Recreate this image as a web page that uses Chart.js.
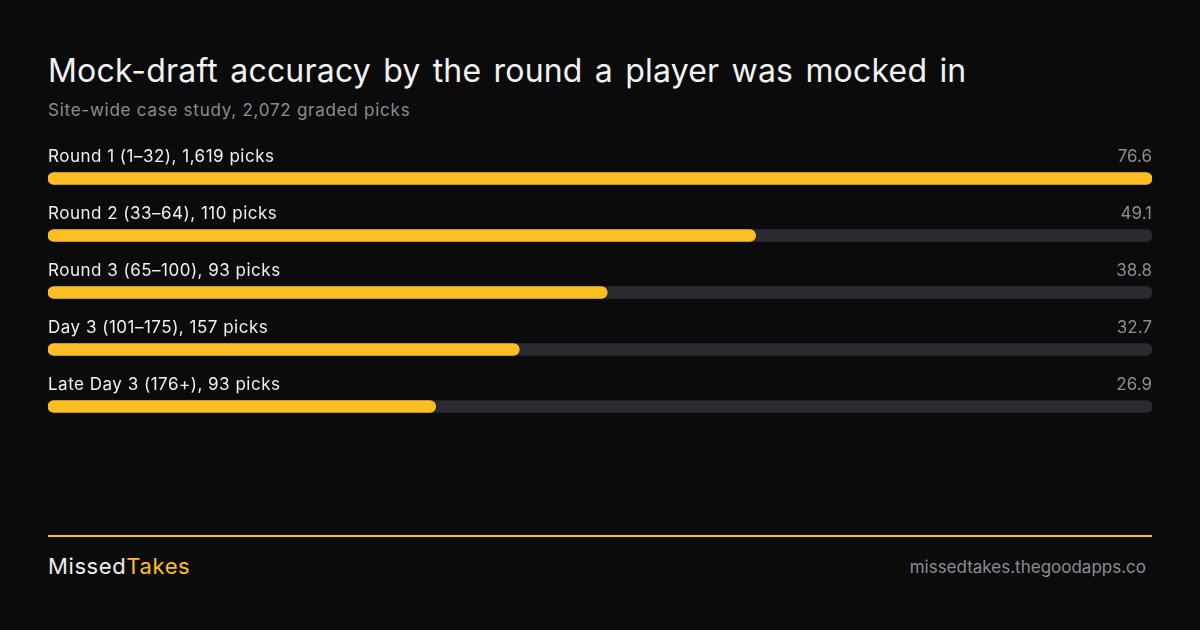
<!DOCTYPE html>
<html>
<head>
<meta charset="utf-8">
<script src="https://cdn.jsdelivr.net/npm/chart.js@4.4.1/dist/chart.umd.min.js"></script>
<style>
  html, body { margin: 0; padding: 0; background: #0b0b0b; }
  body { width: 1200px; height: 630px; position: relative; overflow: hidden; font-family: Inter, "Noto Sans", sans-serif; }
  #title { position: absolute; left: 48px; top: 51px; color: #f2f2f2; font-size: 32px; font-weight: 400; letter-spacing: 0.2px; word-spacing: 3px; white-space: nowrap; }
  #subtitle { position: absolute; left: 48px; top: 100px; color: #8b8b94; font-size: 17px; letter-spacing: 0.75px; white-space: nowrap; }
  #chartBox { position: absolute; left: 48px; top: 140px; width: 1104px; height: 300px; }
  #rule { position: absolute; left: 48px; top: 535px; width: 1104px; height: 2px; background: #fbbf24; }
  #brand { position: absolute; left: 48px; top: 553px; font-size: 22px; letter-spacing: 0.6px; color: #ededed; white-space: nowrap; }
  #brand span { color: #fbbf24; }
  #site { position: absolute; right: 54px; top: 557px; font-size: 17px; color: #8b8b94; white-space: nowrap; }
</style>
</head>
<body>
<div id="title">Mock-draft accuracy by the round a player was mocked in</div>
<div id="subtitle">Site-wide case study, 2,072 graded picks</div>
<div id="chartBox"><canvas id="chart"></canvas></div>
<div id="rule"></div>
<div id="brand">Missed<span>Takes</span></div>
<div id="site">missedtakes.thegoodapps.co</div>

<script>
// dados
const rounds = [
    'Round 1 (1\u201332), 1,619 picks',
    'Round 2 (33\u201364), 110 picks',
    'Round 3 (65\u2013100), 93 picks',
    'Day 3 (101\u2013175), 157 picks',
    'Late Day 3 (176+), 93 picks'
];
const accuracy = [76.6, 49.1, 38.8, 32.7, 26.9];
const track = [76.6, 76.6, 76.6, 76.6, 76.6];

const YELLOW = '#fbbf24';
const TRACK = '#2c2a31';

// plugin: escreve o rótulo e o valor acima de cada barra
const rowLabels = {
    id: 'rowLabels',
    afterDatasetsDraw(chart) {
        const ctx = chart.ctx;
        const meta = chart.getDatasetMeta(1);
        const area = chart.chartArea;
        ctx.save();
        ctx.textBaseline = 'alphabetic';
        ctx.font = '17px Inter, "Noto Sans", sans-serif';
        meta.data.forEach((bar, i) => {
            const y = bar.y - 17;
            ctx.letterSpacing = '0.5px';
            ctx.fillStyle = '#f0f0f0';
            ctx.textAlign = 'left';
            ctx.fillText(rounds[i], area.left, y);
            ctx.letterSpacing = '0px';
            ctx.fillStyle = '#8b8b94';
            ctx.textAlign = 'right';
            ctx.fillText(accuracy[i].toFixed(1), area.right, y);
        });
        ctx.restore();
    }
};

new Chart(document.getElementById('chart'), {
    type: 'bar',
    data: {
        labels: rounds,
        datasets: [
            {
                label: 'track',
                data: track,
                backgroundColor: TRACK,
                barThickness: 12,
                borderRadius: 6,
                borderSkipped: false,
                grouped: false,
                order: 2
            },
            {
                label: 'Accuracy',
                data: accuracy,
                backgroundColor: YELLOW,
                barThickness: 12,
                borderRadius: 6,
                borderSkipped: false,
                grouped: false,
                order: 1
            }
        ]
    },
    options: {
        indexAxis: 'y',
        responsive: true,
        maintainAspectRatio: false,
        animation: false,
        layout: { padding: { top: 10, bottom: 5 } },
        plugins: { legend: { display: false }, tooltip: { enabled: false } },
        scales: {
            x: { display: false, min: 0, max: Math.max(...track) },
            y: { display: false }
        }
    },
    plugins: [rowLabels]
});
</script>
</body>
</html>
